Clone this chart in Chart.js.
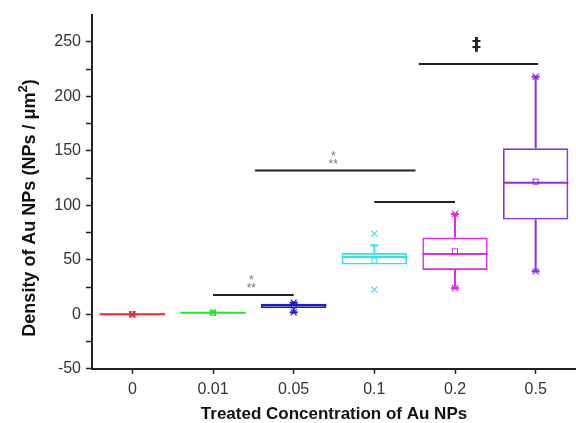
<!DOCTYPE html>
<html lang="en">
<head>
    <meta charset="UTF-8">
    <title>Density of Au NPs</title>
    <script src="https://cdn.jsdelivr.net/npm/chart.js"></script>
    <style>
        body { margin: 0; background: #fff; }
        #wrap { width: 576px; height: 423px; }
    </style>
</head>
<body>
    <div id="wrap"><canvas id="plot" width="576" height="423"></canvas></div>

    <script>
        // categories and box statistics
        const categories = ["0", "0.01", "0.05", "0.1", "0.2", "0.5"];
        const q1 = [0, 1.5, 5.8, 45.6, 40.7, 86.9];
        const q3 = [0, 1.5, 9.8, 56.2, 70.4, 152.3];
        const median = [0, 1.5, 8.2, 52.6, 55.3, 120.8];
        const mean = [0, 1.5, 8.2, 49.3, 57.8, 121.7];
        const whiskerLow = [0, 1.5, 1.8, 45.6, 24.1, 39.4];
        const whiskerHigh = [0, 1.5, 10.7, 63.3, 92, 218];
        const minVals = [0, 1.5, 1.8, 22.7, 24.1, 39.4];
        const maxVals = [0, 1.5, 10.7, 74, 92, 218];
        const colors = ["#e8262e", "#1ee81e", "#1c1cc8", "#2ee6e6", "#e629e6", "#8f2ce6"];

        // significance bars: from/to in category units, height in data units
        const sigFrom = [1, 1.52, 3, 3.55];
        const sigTo = [2, 3.51, 4, 5.03];
        const sigLevel = [17.7, 132, 103, 229.6];
        const sigMark = ["*", "*", "", "\u2021"];

        const boxFrac = 0.81;
        const font = "'Liberation Sans', Arial, sans-serif";

        const boxExtras = {
            id: "boxExtras",
            afterDatasetsDraw(chart) {
                const { ctx, scales: { x, y } } = chart;
                const step = x.getPixelForValue(1) - x.getPixelForValue(0);
                const half = step * boxFrac / 2;
                const line = (x1, y1, x2, y2) => {
                    ctx.beginPath();
                    ctx.moveTo(x1, y1);
                    ctx.lineTo(x2, y2);
                    ctx.stroke();
                };
                const cross = (cx, cy, r) => {
                    line(cx - r, cy - r, cx + r, cy + r);
                    line(cx - r, cy + r, cx + r, cy - r);
                };
                ctx.save();
                categories.forEach((c, i) => {
                    const cx = x.getPixelForValue(i);
                    ctx.strokeStyle = colors[i];
                    ctx.lineWidth = 2;
                    // median
                    line(cx - half, y.getPixelForValue(median[i]), cx + half, y.getPixelForValue(median[i]));
                    // whiskers
                    if (whiskerHigh[i] > q3[i]) {
                        const yy = y.getPixelForValue(whiskerHigh[i]);
                        line(cx, y.getPixelForValue(q3[i]), cx, yy);
                        line(cx - 4, yy, cx + 4, yy);
                    }
                    if (whiskerLow[i] < q1[i]) {
                        const yy = y.getPixelForValue(whiskerLow[i]);
                        line(cx, y.getPixelForValue(q1[i]), cx, yy);
                        line(cx - 4, yy, cx + 4, yy);
                    }
                    // min / max marks
                    ctx.lineWidth = 1.2;
                    cross(cx, y.getPixelForValue(minVals[i]), 3);
                    cross(cx, y.getPixelForValue(maxVals[i]), 3);
                    // mean square
                    ctx.lineWidth = 1;
                    const my = y.getPixelForValue(mean[i]);
                    ctx.strokeRect(cx - 2.5, my - 2.5, 5, 5);
                });

                // significance bars
                ctx.strokeStyle = "#222";
                ctx.lineWidth = 2;
                ctx.textAlign = "center";
                ctx.textBaseline = "middle";
                sigFrom.forEach((f, k) => {
                    const x1 = x.getPixelForValue(f);
                    const x2 = x.getPixelForValue(sigTo[k]);
                    const yy = y.getPixelForValue(sigLevel[k]);
                    line(x1, yy, x2, yy);
                    const mid = (x1 + x2) / 2 - 2;
                    if (sigMark[k] === "*") {
                        ctx.fillStyle = "#777";
                        ctx.font = "12px " + font;
                        ctx.fillText("*", mid, yy - 14);
                        ctx.fillText("**", mid, yy - 6);
                    } else if (sigMark[k]) {
                        ctx.fillStyle = "#222";
                        ctx.font = "bold 18px 'DejaVu Sans', sans-serif";
                        ctx.fillText(sigMark[k], mid, yy - 19);
                    }
                });
                ctx.restore();
            },
            afterDraw(chart) {
                // y title with superscript
                const { ctx } = chart;
                const p1 = "Density of Au NPs (NPs / \u03bcm";
                const p2 = "2";
                const p3 = ")";
                ctx.save();
                ctx.translate(30, 208);
                ctx.rotate(-Math.PI / 2);
                ctx.fillStyle = "#111";
                ctx.textBaseline = "middle";
                ctx.textAlign = "left";
                const big = "bold 18px " + font;
                const small = "bold 13px " + font;
                ctx.font = big;
                const w1 = ctx.measureText(p1).width;
                const w3 = ctx.measureText(p3).width;
                ctx.font = small;
                const w2 = ctx.measureText(p2).width;
                let sx = -(w1 + w2 + w3) / 2;
                ctx.font = big;
                ctx.fillText(p1, sx, 0);
                sx += w1;
                ctx.font = small;
                ctx.fillText(p2, sx, -7);
                sx += w2;
                ctx.font = big;
                ctx.fillText(p3, sx, 0);
                ctx.restore();
            }
        };

        const ctx = document.getElementById("plot").getContext("2d");
        new Chart(ctx, {
            type: "bar",
            data: {
                labels: categories,
                datasets: [{
                    data: categories.map((c, i) => [q1[i], q3[i]]),
                    backgroundColor: "rgba(0,0,0,0)",
                    borderColor: colors,
                    borderWidth: 1.6,
                    borderSkipped: false,
                    barPercentage: boxFrac,
                    categoryPercentage: 1
                }]
            },
            options: {
                responsive: false,
                animation: false,
                layout: { padding: { left: 0, right: 0, top: 12, bottom: 0 } },
                plugins: {
                    legend: { display: false },
                    tooltip: { enabled: false }
                },
                scales: {
                    x: {
                        offset: true,
                        grid: {
                            offset: false,
                            drawOnChartArea: false,
                            tickLength: 5,
                            tickColor: "#222",
                            tickWidth: 1.5
                        },
                        border: { display: true, color: "#222", width: 2 },
                        ticks: {
                            color: "#333",
                            padding: 6,
                            font: { family: font, size: 16 }
                        },
                        title: {
                            display: true,
                            text: "Treated Concentration of Au NPs",
                            color: "#111",
                            padding: { top: 1, bottom: 0 },
                            font: { family: font, size: 17, weight: "bold", lineHeight: 1 }
                        }
                    },
                    y: {
                        min: -50,
                        max: 275,
                        afterFit(scale) { scale.width = 92; },
                        grid: {
                            drawOnChartArea: false,
                            tickLength: 6,
                            tickColor: c => c.tick && c.tick.value === 275 ? "rgba(0,0,0,0)" : "#222",
                            tickWidth: 1.5
                        },
                        border: { display: true, color: "#222", width: 2 },
                        ticks: {
                            stepSize: 25,
                            color: "#333",
                            padding: 5,
                            font: { family: font, size: 16 },
                            callback: v => (v % 50 === 0 ? v : "")
                        }
                    }
                }
            },
            plugins: [boxExtras]
        });
    </script>
</body>
</html>
